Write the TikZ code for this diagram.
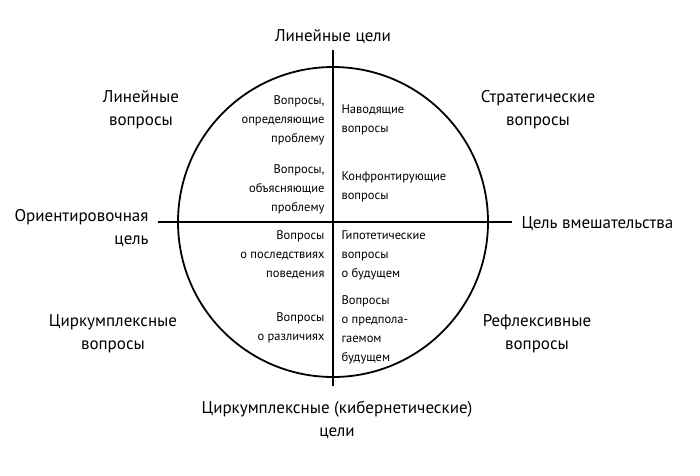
\documentclass[tikz,border=0pt]{standalone}
\usepackage{fontspec}
\setmainfont{PT Sans}
\begin{document}
\begin{tikzpicture}[x=1pt,y=-1pt,
  outer/.style={font=\fontsize{17}{23}\selectfont, align=center},
  inl/.style={font=\fontsize{12.5}{19}\selectfont, align=right, anchor=east},
  inr/.style={font=\fontsize{12.5}{19}\selectfont, align=left, anchor=west},
  ln/.style={line width=1.8pt}]
\useasboundingbox (0,0) rectangle (700,475);
\node[draw, circle, ln, minimum size=310pt, inner sep=0] (c) at (333,222) {};
\coordinate (t) at (333,50); \coordinate (b) at (333,386);
\coordinate (l) at (158,222); \coordinate (r) at (512,222);
\draw[ln] (t) -- (b);
\draw[ln] (l) -- (r);
\node[outer] (n1) at (333,37) {Линейные цели};
\node[outer] (n2) at (141,110) {Линейные\\вопросы};
\node[outer] (n3) at (538,110) {Стратегические\\вопросы};
\node[outer, align=right, anchor=east] (n4) at (152,228) {Ориентировочная\\цель};
\node[outer, anchor=west] (n5) at (518,224) {Цель вмешательства};
\node[outer] (n6) at (113,334) {Циркумплексные\\вопросы};
\node[outer] (n7) at (537,334) {Рефлексивные\\вопросы};
\node[outer] (n8) at (337,420) {Циркумплексные (кибернетические)\\цели};
\node[inl] (a1) at (328,120) {Вопросы,\\определяющие\\проблему};
\node[inl] (a2) at (328,189) {Вопросы,\\объясняющие\\проблему};
\node[inl] (a3) at (328,255) {Вопросы\\о последствиях\\поведения};
\node[inl] (a4) at (328,328) {Вопросы\\о различиях};
\node[inr] (b1) at (338,120) {Наводящие\\вопросы};
\node[inr] (b2) at (338,187) {Конфронтирующие\\вопросы};
\node[inr] (b3) at (338,255) {Гипотетические\\вопросы\\о будущем};
\node[inr] (b4) at (338,330) {Вопросы\\о предпола-\\гаемом\\будущем};
\end{tikzpicture}
\end{document}
